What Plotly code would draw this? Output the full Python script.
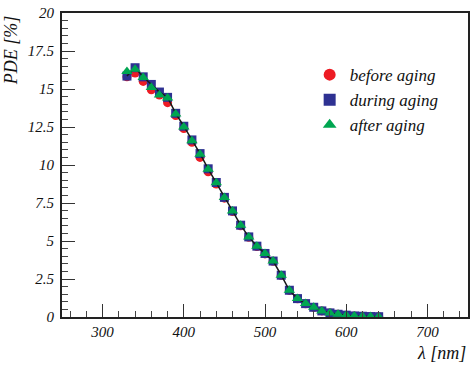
import plotly.graph_objects as go

wavelength = [330, 340, 350, 360, 370, 380, 390, 400, 410, 420, 430, 440, 450, 460, 470, 480,
              490, 500, 510, 520, 530, 540, 550, 560, 570, 580, 590, 600, 610, 620, 630, 640]
pde_before = [15.8, 16.05, 15.5, 14.95, 14.6, 14.1, 13.25, 12.4, 11.5, 10.5, 9.55, 8.75, 7.82, 6.94,
              6.0, 5.24, 4.63, 4.15, 3.66, 2.73, 1.75, 1.2, 0.87, 0.63, 0.4, 0.27, 0.18, 0.12, 0.07,
              0.05, 0.03, 0.02]
pde_during = [15.85, 16.4, 15.8, 15.3, 14.8, 14.45, 13.4, 12.55, 11.65, 10.75, 9.75, 8.85, 7.87, 6.98,
              6.04, 5.27, 4.66, 4.18, 3.68, 2.75, 1.76, 1.21, 0.88, 0.64, 0.4, 0.27, 0.18, 0.12, 0.07,
              0.05, 0.03, 0.02]
pde_after = [16.15, 16.3, 15.75, 15.1, 14.6, 14.4, 13.35, 12.5, 11.6, 10.7, 9.72, 8.83, 7.86, 6.98,
             6.04, 5.27, 4.66, 4.18, 3.68, 2.75, 1.76, 1.21, 0.88, 0.64, 0.4, 0.27, 0.18, 0.12, 0.07,
             0.05, 0.03, 0.02]

names = ["before aging", "during aging", "after aging"]
colors = ["#ed1c24", "#2e3192", "#00a651"]

serif = "Liberation Serif, Times New Roman, serif"

fig = go.Figure()
fig.add_trace(go.Scatter(x=wavelength, y=pde_before, mode="markers", name=names[0],
                         legendgroup="a",
                         marker=dict(symbol="circle", size=9, color=colors[0])))
fig.add_trace(go.Scatter(x=wavelength, y=pde_during, mode="markers", name=names[1],
                         legendgroup="b",
                         marker=dict(symbol="square", size=9, color=colors[1])))
fig.add_trace(go.Scatter(x=wavelength, y=pde_during, mode="lines", showlegend=False,
                         line=dict(color="#1a1a1a", width=1.5)))
fig.add_trace(go.Scatter(x=wavelength, y=pde_after, mode="markers", name=names[2],
                         legendgroup="c",
                         marker=dict(symbol="triangle-up", size=10, color=colors[2])))

axis_common = dict(
    showgrid=False, zeroline=False,
    showline=True, linecolor="#222222", linewidth=2, mirror=True,
    ticks="inside", tickcolor="#333333", tickwidth=1.2, ticklen=13,
    tickfont=dict(family=serif, size=15, color="#111111", style="italic"),
)

fig.update_xaxes(range=[250, 750], dtick=100, tick0=0,
                 minor=dict(dtick=20, ticks="inside", ticklen=6, tickcolor="#444444", tickwidth=1.2),
                 **axis_common)
fig.update_yaxes(range=[0, 20], dtick=2.5, tick0=0,
                 minor=dict(dtick=0.5, ticks="inside", ticklen=6, tickcolor="#444444", tickwidth=1.2),
                 ticklabelstandoff=3,
                 **axis_common)

fig.add_annotation(text="PDE [%]", xref="paper", yref="paper", x=-0.125, y=1.0,
                   xanchor="center", yanchor="top", textangle=-90, showarrow=False,
                   font=dict(family=serif, size=18, color="#111111", style="italic"))
fig.add_annotation(text="λ [nm]", xref="paper", yref="paper", x=1.0, y=-0.08,
                   xanchor="right", yanchor="top", showarrow=False,
                   font=dict(family=serif, size=18, color="#111111", style="italic"))

fig.update_layout(
    width=471, height=368,
    margin=dict(l=62, r=1, t=13, b=51),
    paper_bgcolor="white", plot_bgcolor="white",
    legend=dict(x=0.61, y=0.855, xanchor="left", yanchor="top",
                bgcolor="rgba(0,0,0,0)", tracegroupgap=0, itemsizing="constant",
                font=dict(family=serif, size=17, color="#111111", style="italic")),
)

fig.write_html("out.html")
